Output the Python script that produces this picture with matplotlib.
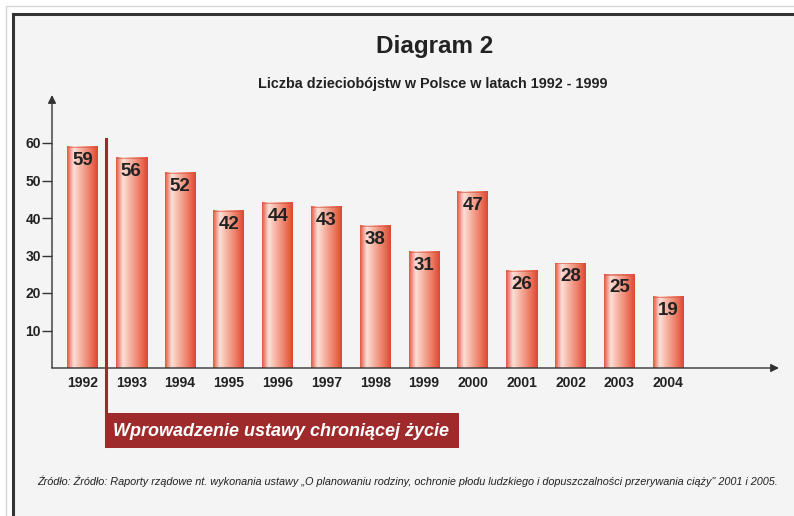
import matplotlib.pyplot as plt
import numpy as np
from matplotlib.colors import LinearSegmentedColormap
from matplotlib.lines import Line2D
from matplotlib.patches import Rectangle

years = ["1992", "1993", "1994", "1995", "1996", "1997", "1998",
         "1999", "2000", "2001", "2002", "2003", "2004"]
counts = [59, 56, 52, 42, 44, 43, 38, 31, 47, 26, 28, 25, 19]
y_ticks = [10, 20, 30, 40, 50, 60]

title = "Diagram 2"
subtitle = "Liczba dzieciobójstw w Polsce w latach 1992 - 1999"
law_label = "Wprowadzenie ustawy chroniącej życie"
source = ("Źródło: Źródło: Raporty rządowe nt. wykonania ustawy „O planowaniu rodziny, "
          "ochronie płodu ludzkiego i dopuszczalności przerywania ciąży\" 2001 i 2005.")

W, H = 794, 516
plt.rcParams["font.family"] = ["Liberation Sans", "DejaVu Sans"]


def fx(x):
    return x / W


def fy(y):
    return 1 - y / H


fig = plt.figure(figsize=(W / 100, H / 100), dpi=100)
fig.patch.set_facecolor("white")

# frame: light outer line, dark inner border, grey panel (behind the axes)
fig.add_artist(Rectangle((fx(6), fy(530)), fx(800), (530 - 6) / H, transform=fig.transFigure,
                         facecolor="none", edgecolor="#d6d6d6", lw=1.0, zorder=-3))
fig.add_artist(Rectangle((fx(13), fy(530)), fx(800), (530 - 14) / H, transform=fig.transFigure,
                         facecolor="#f4f4f4", edgecolor="#333333", lw=2.2, zorder=-2))

# chart area in pixels: y axis at x=52, x axis at y=368, arrow tips at 779 / 95
spacing = 48.8
x0_idx = (52 - 82.5) / spacing
x1_idx = (779 - 82.5) / spacing
px_per_unit = 3.75
ytop = (368 - 95) / px_per_unit

ax = fig.add_axes([fx(52), fy(368), fx(779 - 52), (368 - 95) / H])
ax.patch.set_alpha(0)
for s in ax.spines.values():
    s.set_visible(False)

cmap = LinearSegmentedColormap.from_list(
    "bar", [(0.0, "#e3543f"), (0.22, "#fbe1d9"), (0.35, "#f8c6b8"),
            (0.75, "#ec7a63"), (1.0, "#de4631")])
grad = np.linspace(0, 1, 256).reshape(1, -1)
bw = 31 / spacing
for i, v in enumerate(counts):
    ax.imshow(grad, cmap=cmap, extent=[i - bw / 2, i + bw / 2, 0, v],
              aspect="auto", zorder=2, interpolation="bicubic")
    ax.add_patch(Rectangle((i - bw / 2, v - 0.35), bw, 0.35, facecolor="#d9533f",
                           edgecolor="none", alpha=0.6, zorder=3))
    ax.text(i, v - 1.4, str(v), ha="center", va="top", fontsize=13.5,
            fontweight="bold", color="#222222", zorder=4)

ax.set_xlim(x0_idx, x1_idx)
ax.set_ylim(0, ytop)

# axes with arrows
ax.annotate("", xy=(x1_idx, 0), xytext=(x0_idx, 0),
            arrowprops=dict(arrowstyle="-|>", color="#333333", lw=1.0,
                            mutation_scale=12, shrinkA=0, shrinkB=0),
            annotation_clip=False)
ax.annotate("", xy=(x0_idx, ytop), xytext=(x0_idx, 0),
            arrowprops=dict(arrowstyle="-|>", color="#333333", lw=1.0,
                            mutation_scale=12, shrinkA=0, shrinkB=0),
            annotation_clip=False)

ax.set_xticks(range(len(years)))
ax.set_xticklabels(years, fontsize=10, fontweight="bold", color="#222222")
ax.tick_params(axis="x", length=0, pad=6)
ax.set_yticks(y_ticks)
ax.set_yticklabels([str(t) for t in y_ticks], fontsize=10, fontweight="bold",
                   color="#222222")
ax.tick_params(axis="y", length=7, width=1.0, color="#333333", pad=1, direction="out")

# titles
fig.text(fx(435), fy(47), title, ha="center", va="center", fontsize=17.5,
         fontweight="bold", color="#222222")
fig.text(fx(433), fy(84), subtitle, ha="center", va="center", fontsize=10.4,
         fontweight="bold", color="#222222")

# law introduction marker
red = "#9e2a2b"
fig.add_artist(Line2D([fx(105.5), fx(105.5)], [fy(139), fy(446)], transform=fig.transFigure,
                      color=red, lw=2.2))
fig.add_artist(Rectangle((fx(105), fy(448)), fx(459 - 105), (448 - 413) / H,
                         transform=fig.transFigure, facecolor=red, edgecolor="none"))
fig.text(fx(113), fy(432), law_label, ha="left", va="center", fontsize=13,
         fontweight="bold", fontstyle="italic", color="white")

fig.text(fx(37), fy(481), source, ha="left", va="center", fontsize=7.85,
         fontstyle="italic", color="#222222")

fig.savefig("out.png", dpi=100, facecolor=fig.get_facecolor())
